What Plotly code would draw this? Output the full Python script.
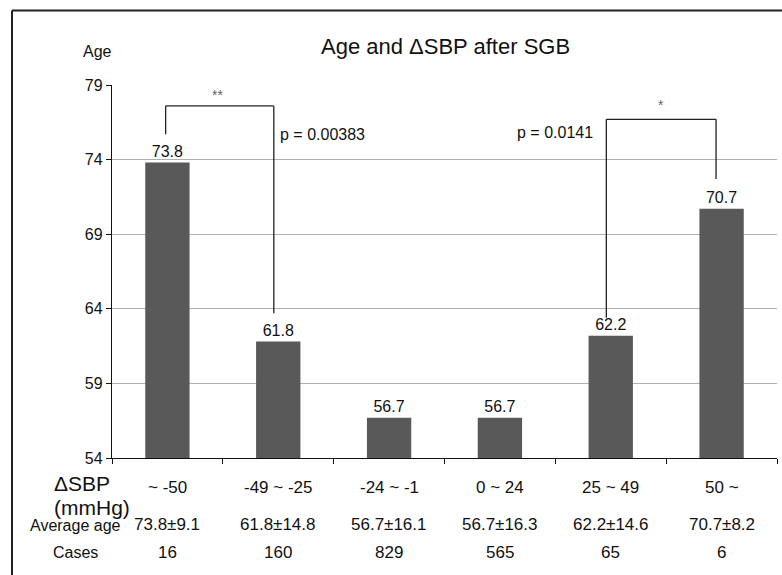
import plotly.graph_objects as go

categories = ["~ -50", "-49 ~ -25", "-24 ~ -1", "0 ~ 24", "25 ~ 49", "50 ~"]
mean_age = [73.8, 61.8, 56.7, 56.7, 62.2, 70.7]
avg_age_text = ["73.8±9.1", "61.8±14.8", "56.7±16.1", "56.7±16.3", "62.2±14.6", "70.7±8.2"]
cases = [16, 160, 829, 565, 65, 6]
y_ticks = [54, 59, 64, 69, 74, 79]

W, H = 782, 575
L, R, T, B = 112, 5, 85, 117
PW, PH = W - L - R, H - T - B


def px(xp):
    return (xp - L) / PW


def py(yp):
    return (H - B - yp) / PH


FONT = "Liberation Sans, Arial, sans-serif"
INK = "#111"

fig = go.Figure()
fig.add_trace(go.Bar(
    x=list(range(len(categories))), y=[v - 54 for v in mean_age], base=54,
    width=0.4, marker=dict(color="#595959", line=dict(width=0)),
    text=[f"{v:.1f}" for v in mean_age], textposition="outside",
    textfont=dict(family=FONT, size=16, color=INK),
    cliponaxis=False, showlegend=False, hoverinfo="skip",
))


def ann(x, y, text, size, xref="paper", yref="paper", xanchor="center", color=INK):
    return dict(x=x, y=y, xref=xref, yref=yref, text=text, showarrow=False,
                xanchor=xanchor, yanchor="middle",
                font=dict(family=FONT, size=size, color=color))


annotations = []
for i, c in enumerate(categories):
    annotations.append(ann(i, py(487), c, 17, xref="x"))
    annotations.append(ann(i, py(524), avg_age_text[i], 17, xref="x"))
    annotations.append(ann(i, py(552), str(cases[i]), 17, xref="x"))

annotations += [
    ann(px(52), py(483), "ΔSBP", 21, xanchor="left"),
    ann(px(52), py(507), "(mmHg)", 21, xanchor="left"),
    ann(px(75), py(525), "Average age", 16),
    ann(px(75), py(552), "Cases", 16),
    ann(px(97), py(52), "Age", 16),
    ann(px(445), py(47), "Age and ΔSBP after SGB", 22),
    ann(0.45, 78.3, "**", 14, xref="x", yref="y", color="#666"),
    ann(1.0, 75.7, "p = 0.00383", 16, xref="x", yref="y", xanchor="left"),
    ann(4.45, 77.65, "*", 14, xref="x", yref="y", color="#666"),
    ann(3.86, 75.85, "p = 0.0141", 16, xref="x", yref="y", xanchor="right"),
]

line = dict(color="#222", width=1.3)
shapes = [
    # bracket between bars 0 and 1
    dict(type="line", xref="x", yref="y", x0=-0.016, x1=-0.016, y0=75.7, y1=77.6, line=line),
    dict(type="line", xref="x", yref="y", x0=-0.016, x1=0.96, y0=77.6, y1=77.6, line=line),
    dict(type="line", xref="x", yref="y", x0=0.96, x1=0.96, y0=77.6, y1=63.7, line=line),
    # bracket between bars 4 and 5
    dict(type="line", xref="x", yref="y", x0=3.96, x1=3.96, y0=63.4, y1=76.7, line=line),
    dict(type="line", xref="x", yref="y", x0=3.96, x1=4.95, y0=76.7, y1=76.7, line=line),
    dict(type="line", xref="x", yref="y", x0=4.95, x1=4.95, y0=76.7, y1=72.7, line=line),
    # outer frame
    dict(type="line", xref="paper", yref="paper", x0=px(12), x1=px(800), y0=py(10.5), y1=py(10.5),
         line=dict(color="#222", width=2)),
    dict(type="line", xref="paper", yref="paper", x0=px(12), x1=px(12), y0=py(10.5), y1=py(600),
         line=dict(color="#222", width=2)),
]

fig.update_layout(
    width=W, height=H,
    margin=dict(l=L, r=R, t=T, b=B, pad=0),
    paper_bgcolor="white", plot_bgcolor="white",
    annotations=annotations, shapes=shapes,
    xaxis=dict(range=[-0.5, 5.5], showticklabels=False, showgrid=False, zeroline=False,
               showline=True, linecolor=INK, linewidth=1.3,
               tickmode="array", tickvals=[i + 0.5 for i in range(-1, 6)], ticks="outside",
               ticklen=5, tickcolor=INK),
    yaxis=dict(range=[54, 79], tickvals=y_ticks, showgrid=True, gridcolor="#b0b0b0", gridwidth=1,
               zeroline=False, showline=True, linecolor=INK, linewidth=1.3,
               ticks="outside", ticklen=5, tickcolor=INK,
               tickfont=dict(family=FONT, size=16, color=INK)),
    font=dict(family=FONT),
)

fig.write_html("out.html", config={"displayModeBar": False},
               post_script="document.body.style.margin='0px';document.body.style.overflow='hidden';")
